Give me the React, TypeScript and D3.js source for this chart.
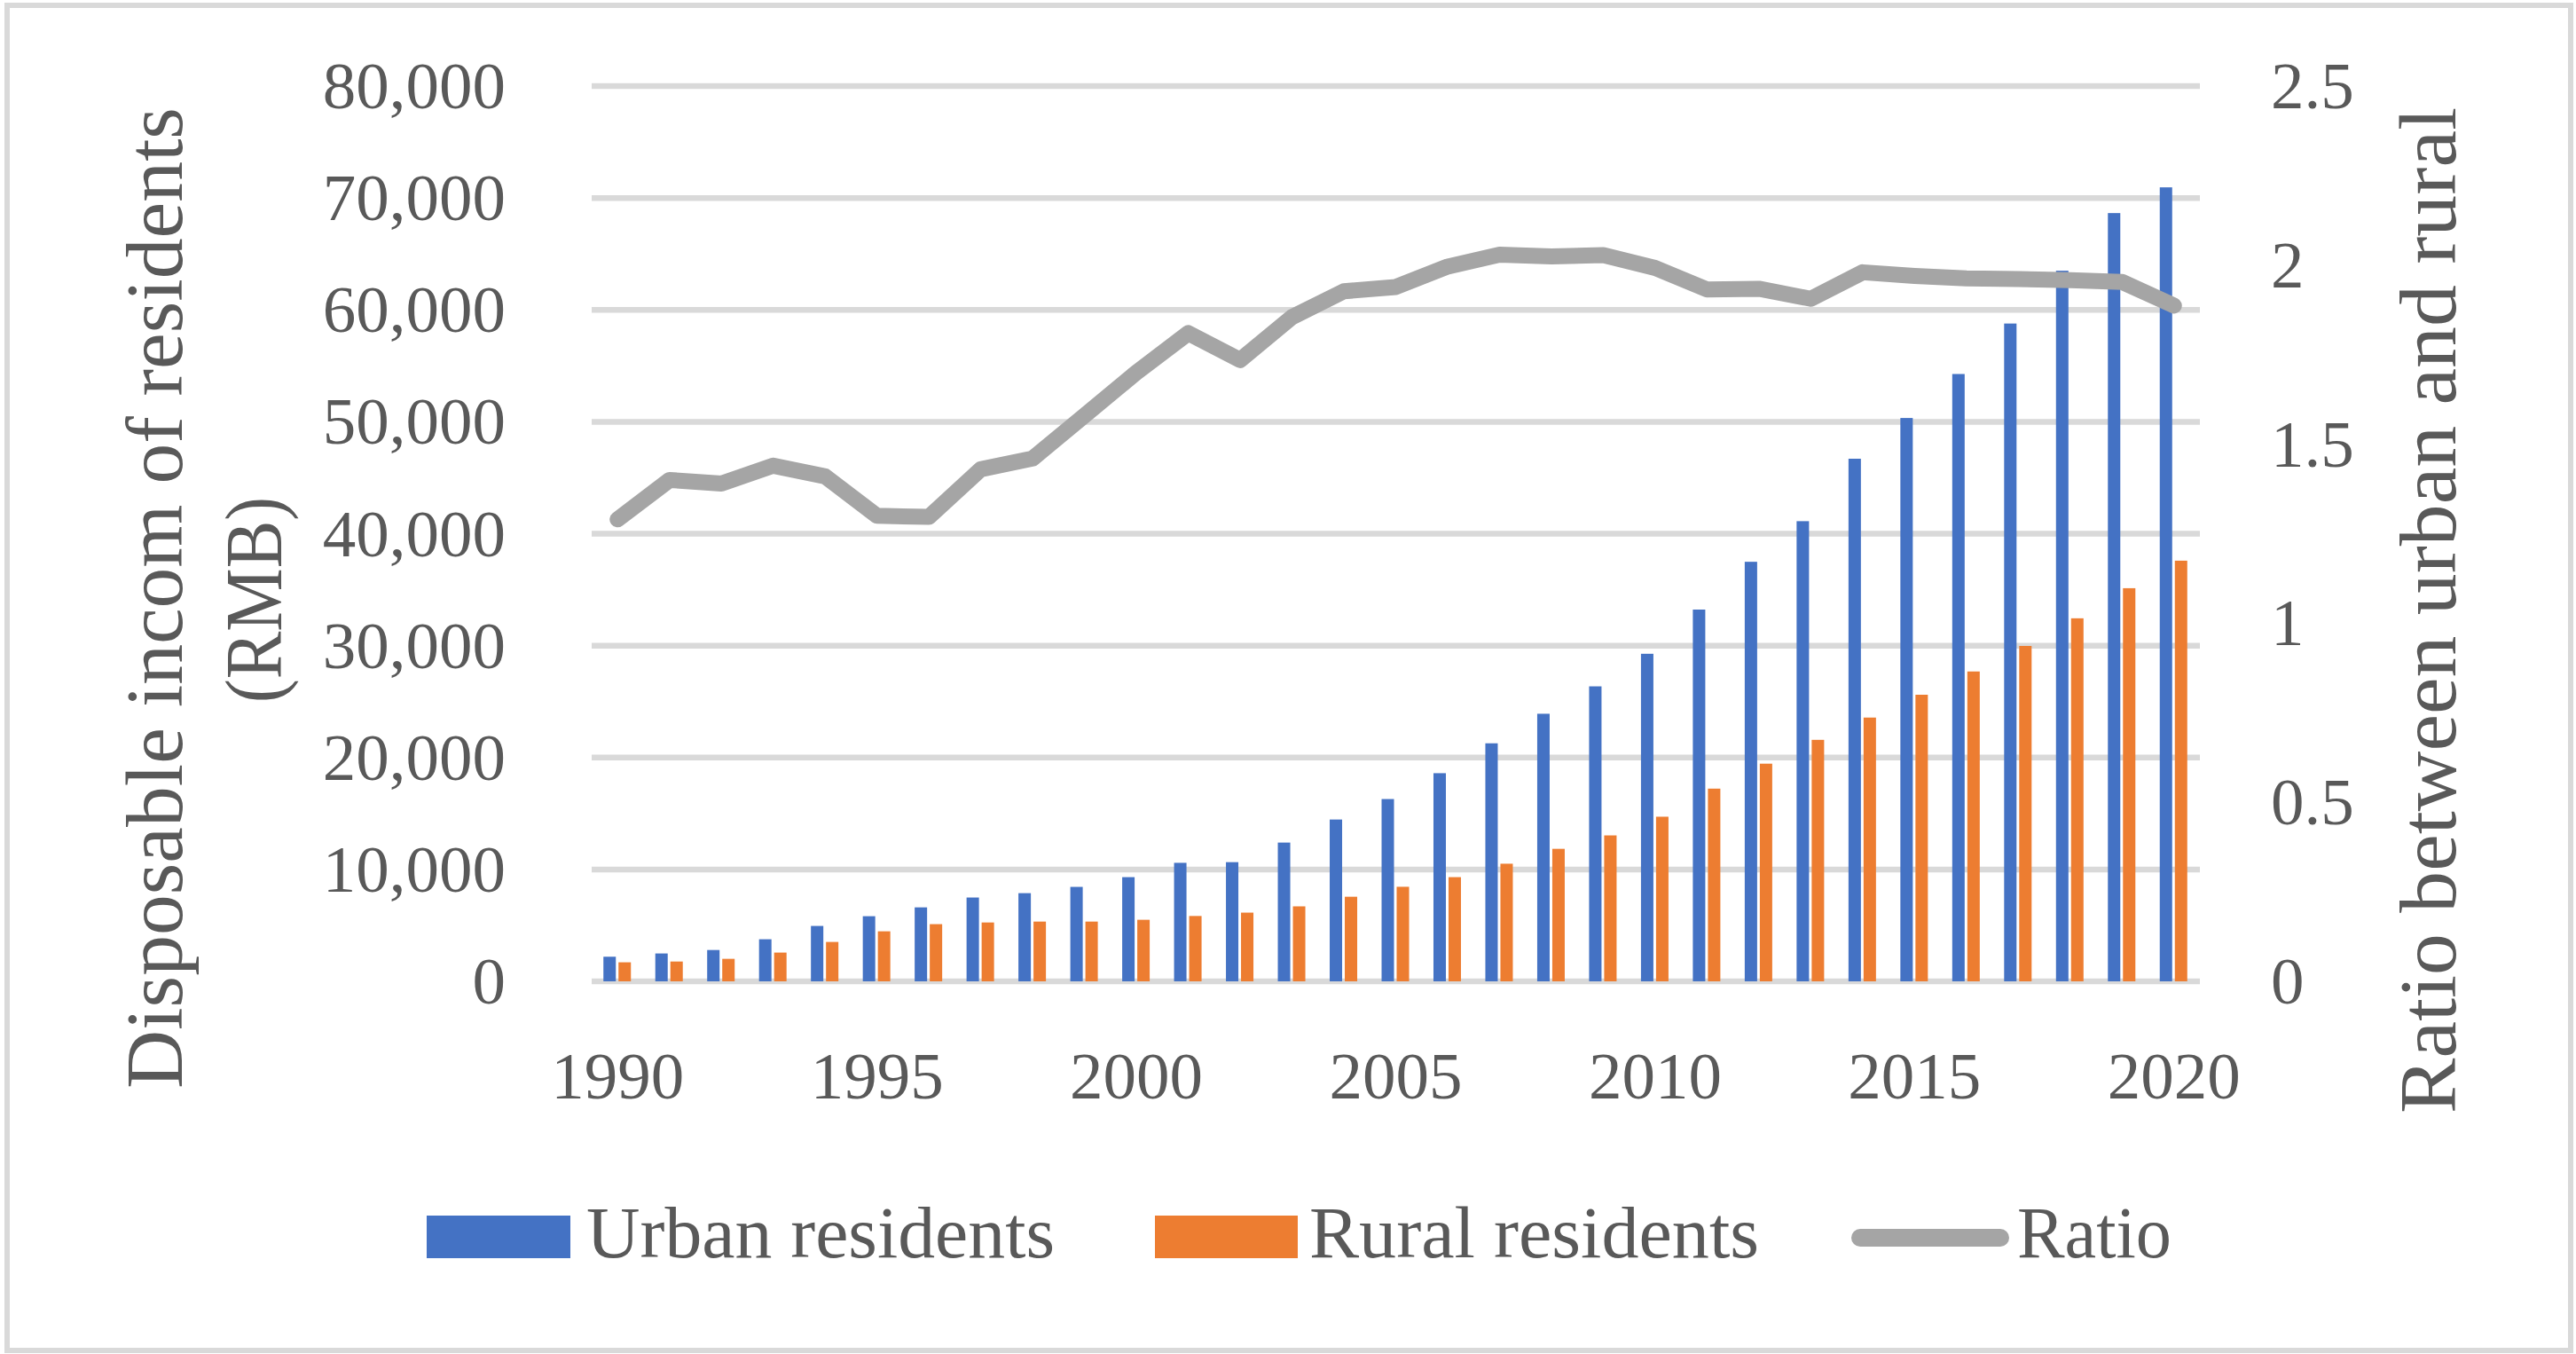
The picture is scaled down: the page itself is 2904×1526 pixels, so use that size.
import React from 'react';
import * as d3 from 'd3';

const years = [1990, 1991, 1992, 1993, 1994, 1995, 1996, 1997, 1998, 1999, 2000, 2001, 2002, 2003, 2004, 2005, 2006, 2007, 2008, 2009, 2010, 2011, 2012, 2013, 2014, 2015, 2016, 2017, 2018, 2019, 2020];
const urban = [2200, 2490, 2800, 3760, 4950, 5820, 6610, 7490, 7880, 8440, 9310, 10590, 10650, 12400, 14460, 16290, 18600, 21270, 23910, 26360, 29270, 33220, 37490, 41120, 46700, 50340, 54270, 58780, 63500, 68650, 70950];
const rural = [1700, 1770, 2010, 2570, 3520, 4470, 5110, 5260, 5340, 5340, 5500, 5840, 6140, 6700, 7560, 8450, 9310, 10510, 11840, 13040, 14710, 17220, 19450, 21580, 23570, 25610, 27690, 29970, 32440, 35130, 37590];
const ratio = [1.29, 1.40, 1.39, 1.44, 1.41, 1.30, 1.297, 1.43, 1.46, 1.58, 1.70, 1.81, 1.735, 1.855, 1.927, 1.939, 1.996, 2.029, 2.024, 2.028, 1.992, 1.932, 1.934, 1.906, 1.980, 1.970, 1.963, 1.961, 1.958, 1.953, 1.887];
const leftTicks = [0, 10000, 20000, 30000, 40000, 50000, 60000, 70000, 80000];
const rightTicks = [0, 0.5, 1, 1.5, 2, 2.5];
const xLabels = [1990, 1995, 2000, 2005, 2010, 2015, 2020];
const seriesNames = ['Urban residents', 'Rural residents', 'Ratio'];
const leftTitle = ['Disposable incom of residents', '(RMB)'];
const rightTitle = 'Ratio between urban and rural';

const FONT = '"Liberation Serif", "Times New Roman", serif';
const TEXT = '#595959';
const GRID = '#d9d9d9';
const BLUE = '#4472c4';
const ORANGE = '#ed7d31';
const GREY = '#a5a5a5';

export default function App() {
  const W = 2904;
  const H = 1526;
  const x = d3.scaleBand<number>().domain(years).range([667, 2480]).padding(0);
  const yL = d3.scaleLinear().domain([0, 80000]).range([1106, 97]);
  const yR = d3.scaleLinear().domain([0, 2.5]).range([1106, 97]);
  const cx = (yr: number) => (x(yr) as number) + x.bandwidth() / 2;
  const fmt = d3.format(',');
  const line = d3
    .line<number>()
    .x((_, i) => cx(years[i]))
    .y((d) => yR(d));

  const tickSize = 75;
  const legendSize = 82;
  const titleSize = 91;

  return (
    <svg
      width={W}
      height={H}
      viewBox={`0 0 ${W} ${H}`}
      style={{ position: 'absolute', left: 0, top: 0, display: 'block' }}
      fontFamily={FONT}
    >
      <rect x={8} y={6} width={2890} height={1516} fill="#ffffff" stroke={GRID} strokeWidth={6} />

      {/* gridlines */}
      {leftTicks.map((t) => (
        <line key={'g' + t} x1={667} x2={2480} y1={yL(t)} y2={yL(t)} stroke={GRID} strokeWidth={6.5} />
      ))}

      {/* bars */}
      {years.map((yr, i) => (
        <g key={'b' + yr}>
          <rect x={cx(yr) - 16} width={14} y={yL(urban[i])} height={yL(0) - yL(urban[i])} fill={BLUE} />
          <rect x={cx(yr) + 1} width={14} y={yL(rural[i])} height={yL(0) - yL(rural[i])} fill={ORANGE} />
        </g>
      ))}

      {/* ratio line */}
      <path d={line(ratio) || ''} fill="none" stroke={GREY} strokeWidth={18} strokeLinecap="round" strokeLinejoin="round" />

      {/* left ticks */}
      {leftTicks.map((t) => (
        <text key={'l' + t} x={570} y={yL(t) + 25} textAnchor="end" fontSize={tickSize} fill={TEXT}>
          {fmt(t)}
        </text>
      ))}

      {/* right ticks */}
      {rightTicks.map((t) => (
        <text key={'r' + t} x={2560} y={yR(t) + 25} textAnchor="start" fontSize={tickSize} fill={TEXT}>
          {String(t)}
        </text>
      ))}

      {/* x labels */}
      {xLabels.map((yr) => (
        <text key={'x' + yr} x={cx(yr)} y={1238} textAnchor="middle" fontSize={tickSize} fill={TEXT}>
          {yr}
        </text>
      ))}

      {/* left title */}
      <text
        transform="translate(205,674) rotate(-90)"
        textAnchor="middle"
        fontSize={titleSize}
        fill={TEXT}
        textLength={1106}
        lengthAdjust="spacingAndGlyphs"
      >
        {leftTitle[0]}
      </text>
      <text
        transform="translate(317,676) rotate(-90)"
        textAnchor="middle"
        fontSize={titleSize}
        fill={TEXT}
        textLength={232}
        lengthAdjust="spacingAndGlyphs"
      >
        {leftTitle[1]}
      </text>

      {/* right title */}
      <text
        transform="translate(2768,688) rotate(-90)"
        textAnchor="middle"
        fontSize={titleSize}
        fill={TEXT}
        textLength={1134}
        lengthAdjust="spacingAndGlyphs"
      >
        {rightTitle}
      </text>

      {/* legend */}
      <rect x={481} y={1370} width={162} height={48} fill={BLUE} />
      <text x={661} y={1417} fontSize={legendSize} fill={TEXT} textLength={528} lengthAdjust="spacingAndGlyphs">
        {seriesNames[0]}
      </text>
      <rect x={1302} y={1370} width={161} height={48} fill={ORANGE} />
      <text x={1476} y={1417} fontSize={legendSize} fill={TEXT} textLength={507} lengthAdjust="spacingAndGlyphs">
        {seriesNames[1]}
      </text>
      <line x1={2097} x2={2255} y1={1395} y2={1395} stroke={GREY} strokeWidth={20} strokeLinecap="round" />
      <text x={2274} y={1417} fontSize={legendSize} fill={TEXT} textLength={174} lengthAdjust="spacingAndGlyphs">
        {seriesNames[2]}
      </text>
    </svg>
  );
}
